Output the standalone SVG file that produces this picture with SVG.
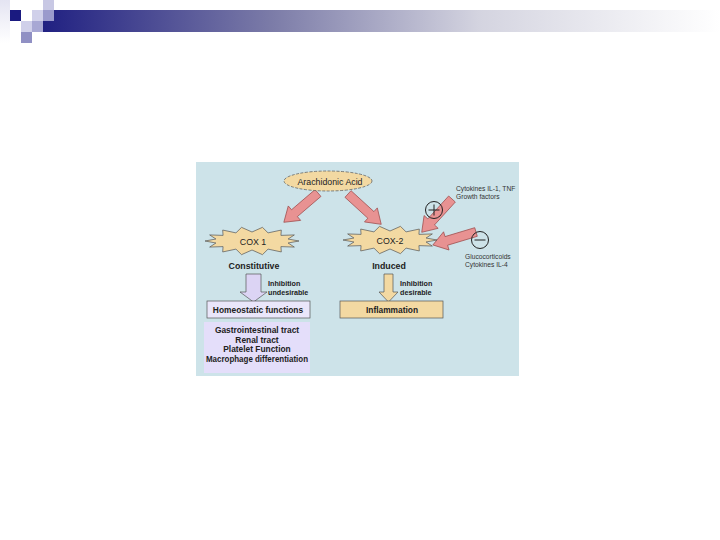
<svg xmlns="http://www.w3.org/2000/svg" width="720" height="540" viewBox="0 0 720 540">
<style>
.t{font-family:"Liberation Sans",Arial,sans-serif;fill:#222;}
.b{font-weight:bold;}
.lab{font-size:8.8px;}
.bx{font-size:8.4px;font-weight:bold;}
.sm{font-size:6.7px;fill:#333;}
.sb{font-size:7.2px;font-weight:bold;}
.tan{fill:#f3d9a2;stroke:#555;stroke-width:0.7;}
.pink{fill:#e89292;stroke:#9c4a4a;stroke-width:0.7;}
</style>
<defs>
<linearGradient id="bar" x1="0" y1="0" x2="1" y2="0">
<stop offset="0" stop-color="#1c1c80"/>
<stop offset="0.35" stop-color="#7c7ca8"/>
<stop offset="0.65" stop-color="#d4d4e0"/>
<stop offset="1" stop-color="#ffffff"/>
</linearGradient>
<linearGradient id="lcol" x1="0" y1="0" x2="0" y2="1">
<stop offset="0" stop-color="#e4e4f2"/>
<stop offset="1" stop-color="#ffffff"/>
</linearGradient>
<polygon id="star" points="47,0 36.07,2 42.35,6.07 28.93,5.61 29.3,10.95 16.05,8.11 10.46,13.65 0,9 -10.46,13.65 -16.05,8.11 -29.3,10.95 -28.93,5.61 -42.35,6.07 -36.07,2 -47,0 -36.07,-2 -42.35,-6.07 -28.93,-5.61 -29.3,-10.95 -16.05,-8.11 -10.46,-13.65 0,-9 10.46,-13.65 16.05,-8.11 29.3,-10.95 28.93,-5.61 42.35,-6.07 36.07,-2"/>
<polygon id="arr" points="0,-4.5 31,-4.5 31,-9.5 45,0 31,9.5 31,4.5 0,4.5"/>
</defs>
<!-- header -->
<rect x="0" y="0" width="10" height="43" fill="url(#lcol)"/>
<rect x="32" y="10" width="688" height="22" fill="url(#bar)"/>
<rect x="43" y="0" width="11" height="10" fill="#c8c8e4"/>
<rect x="10" y="10" width="11" height="11" fill="#1a1a80"/>
<rect x="32" y="10" width="11" height="11" fill="#d0d0ea"/>
<rect x="43" y="10" width="11" height="11" fill="#9a9acc"/>
<rect x="21" y="21" width="11" height="11" fill="#d0d0ea"/>
<rect x="32" y="21" width="11" height="11" fill="#a8a8d4"/>
<rect x="21" y="32" width="11" height="11" fill="#9090c4"/>
<!-- picture background -->
<rect x="196" y="162" width="323" height="214" fill="#cde3e9"/>
<g id="connectors">
<use href="#arr" class="pink" transform="translate(318,193) rotate(139.4)"/>
<use href="#arr" class="pink" transform="translate(348,194) rotate(42.4)"/>
<use href="#arr" class="pink" transform="translate(452,199) rotate(132.3)"/>
<use href="#arr" class="pink" transform="translate(476,232) rotate(163.3)"/>
<polygon points="246,274 261,274 261,292 267,292 253.5,302 240,292 246,292" fill="#dcd4f4" stroke="#555" stroke-width="0.7"/>
<polygon points="384,274 393,274 393,292 398,292 388.5,302 379,292 384,292" class="tan"/>
</g>
<g id="arachidonic">
<ellipse cx="328" cy="181" rx="44" ry="10" class="tan" stroke-dasharray="3,1.5"/>
<text x="330" y="184.5" class="t lab" text-anchor="middle">Arachidonic Acid</text>
</g>
<g id="cox1">
<use href="#star" class="tan" transform="translate(252,241)"/>
<text x="253" y="244.5" class="t lab" text-anchor="middle">COX 1</text>
<text x="254" y="268.5" class="t lab b" text-anchor="middle">Constitutive</text>
</g>
<g id="cox2">
<use href="#star" class="tan" transform="translate(390,240)"/>
<text x="390" y="243.5" class="t lab" text-anchor="middle">COX-2</text>
<text x="389" y="268.5" class="t lab b" text-anchor="middle">Induced</text>
</g>
<g id="plus">
<circle cx="434" cy="210" r="8.5" fill="none" stroke="#222" stroke-width="1"/>
<path d="M428.5,210 H439.5 M434,204.5 V215.5" stroke="#222" stroke-width="1"/>
</g>
<g id="minus">
<circle cx="480" cy="240" r="8.5" fill="none" stroke="#222" stroke-width="1"/>
<path d="M474.5,240 H485.5" stroke="#222" stroke-width="1"/>
</g>
<g id="cytokines">
<text x="456" y="191" class="t sm">Cytokines IL-1, TNF</text>
<text x="456" y="199" class="t sm">Growth factors</text>
</g>
<g id="gluco">
<text x="465" y="259" class="t sm">Glucocorticoids</text>
<text x="465" y="267" class="t sm">Cytokines IL-4</text>
</g>
<g id="inhib1">
<text x="268" y="286" class="t sb">Inhibition</text>
<text x="268" y="294.5" class="t sb">undesirable</text>
</g>
<g id="inhib2">
<text x="400" y="286" class="t sb">Inhibition</text>
<text x="400" y="294.5" class="t sb">desirable</text>
</g>
<g id="homeostatic">
<rect x="207" y="301" width="103" height="17" fill="#eae6fa" stroke="#555" stroke-width="0.7"/>
<text x="258" y="312.5" class="t bx" text-anchor="middle">Homeostatic functions</text>
</g>
<g id="inflammation">
<rect x="340" y="301" width="103" height="17" class="tan"/>
<text x="392" y="312.5" class="t bx" text-anchor="middle">Inflammation</text>
</g>
<g id="functions">
<rect x="204" y="322" width="106" height="51" fill="#e4defa"/>
<text x="257" y="333" class="t bx" text-anchor="middle">Gastrointestinal tract</text>
<text x="257" y="342.5" class="t bx" text-anchor="middle">Renal tract</text>
<text x="257" y="352" class="t bx" text-anchor="middle">Platelet Function</text>
<text x="257" y="361.5" class="t bx" text-anchor="middle" textLength="102" lengthAdjust="spacingAndGlyphs">Macrophage differentiation</text>
</g>
</svg>
